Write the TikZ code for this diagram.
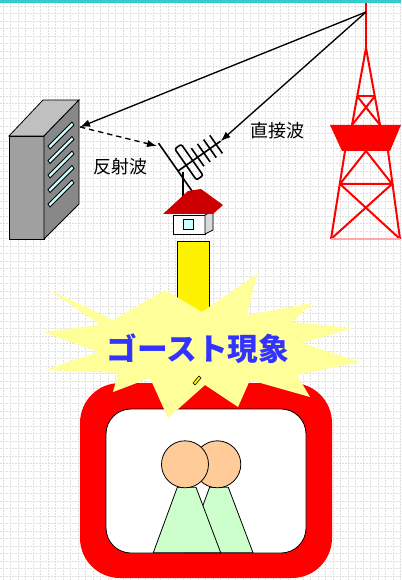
\documentclass[tikz,border=0pt]{standalone}
\usepackage{fontspec}
\newfontfamily\jpfont{Noto Sans CJK JP}
\usepackage{xcolor}
\usetikzlibrary{arrows.meta}
\definecolor{topbar}{RGB}{51,204,204}
\definecolor{gridgray}{RGB}{222,222,222}
\definecolor{bldgfront}{RGB}{160,160,160}
\definecolor{bldgtop}{RGB}{192,192,192}
\definecolor{bldgside}{RGB}{136,136,136}
\definecolor{glass}{RGB}{204,255,255}
\definecolor{roofred}{RGB}{204,0,0}
\definecolor{starfill}{RGB}{255,255,153}
\definecolor{ghostblue}{RGB}{51,51,255}
\definecolor{face}{RGB}{255,204,153}
\definecolor{cloth}{RGB}{204,255,204}
\tikzset{
    gridline/.style={draw=gridgray, line width=0.6pt, dash pattern=on 1.5pt off 0.75pt},
    wave/.style={-{Latex[length=7.5pt,width=5.5pt]}, line width=1pt, draw=black},
    reflwave/.style={wave, dash pattern=on 4pt off 3pt},
    tower/.style={draw=red, line width=1.5pt},
    thinline/.style={draw=black, line width=0.6pt},
    antline/.style={draw=black, line width=1.2pt},
    wavetext/.style={font=\jpfont\fontsize{13.5}{15}\selectfont, inner sep=0pt}
}

\begin{document}
\begin{tikzpicture}[x=0.75pt, y=-0.75pt]
    \useasboundingbox (0,0) rectangle (401,580);
    % background grid
    \foreach \i in {3,10.5,...,401} \draw[gridline] (\i,3) -- (\i,580);
    \foreach \j in {6,13.5,...,580} \draw[gridline] (0,\j) -- (401,\j);
    \fill[topbar] (0,0) rectangle (401,3);

    % building
    \fill[bldgfront, thinline] (9,136) rectangle (44,239);
    \filldraw[fill=bldgtop, thinline] (9,136) -- (44,136) -- (79,100) -- (43,100) -- cycle;
    \filldraw[fill=bldgside, thinline] (44,136) -- (79,100) -- (79,204) -- (44,239) -- cycle;
    \foreach \d in {0,14.5,...,58}
        \filldraw[fill=glass, thinline] (48,146+\d) -- (72,122+\d) -- (74,125+\d) -- (50,149+\d) -- cycle;

    % tower
    \draw[tower] (366,3) -- (366,48);
    \draw[tower] (352,125) -- (366,48) -- (380,125);
    \draw[tower] (357,96) -- (375,96);
    \draw[tower] (357,96) -- (380,125) (375,96) -- (352,125);
    \fill[red] (330,125) -- (401,125) -- (390,151) -- (342,151) -- cycle;
    \draw[tower] (345,151) -- (331,239) (388,151) -- (400,239);
    \draw[tower] (340,184) -- (366,151) -- (392,184) -- (340,184);
    \draw[tower] (340,184) -- (400,239) (392,184) -- (331,239);
    \draw[red!35, line width=1pt] (331,239) -- (400,239);

    % antenna on the roof
    \draw[antline] (183,172) -- (183,200);
    \begin{scope}[shift={(178,171)}, rotate=35]
        \draw[antline] (0,-34) -- (0,30);
        \draw[antline] (0,0) -- (52,0);
        \draw[antline, rounded corners=1.5pt] (10,-20) rectangle (18,18);
        \foreach \k in {24,31.5,39,46.5} \draw[antline] (\k,-11) -- (\k,11);
        \coordinate (ant) at (52,0);
    \end{scope}

    % house
    \filldraw[fill=white, thinline] (173,215) rectangle (205,234);
    \filldraw[fill=black!15, thinline] (205,215) -- (213,211) -- (213,230) -- (205,234) -- cycle;
    \filldraw[fill=glass, thinline] (183,219) rectangle (193,229);
    \fill[roofred] (163,214) -- (188,191) -- (201,189) -- (223,205) -- (213,214) -- cycle;
    \draw[red!80!black, line width=0.5pt] (189,192) -- (213,214);

    % waves
    \coordinate (src) at (366,12);
    \coordinate (bldg) at (80,127);
    \coordinate (refl) at (157,146);
    \draw[wave] (src) -- (bldg);
    \draw[wave] (src) -- (ant);
    \draw[reflwave] (bldg) -- (refl);
    \node[wavetext] (direct) at (277,131) {直接波};
    \node[wavetext] (reflected) at (120,167) {反射波};

    % cable down to the set
    \filldraw[fill=yellow, thinline] (177,241) rectangle (209,330);

    % television
    \fill[red, rounded corners=40pt*0.75] (80,383) rectangle (332,578);
    \filldraw[fill=white, thinline, rounded corners=25pt*0.75] (106,409) rectangle (306,553);
    \filldraw[fill=cloth, thinline] (209.6,487.3) -- (228.3,487.3) -- (253,552.7) -- (185.6,552.7) -- cycle;
    \filldraw[fill=face, thinline] (217.3,464.3) circle (23.5);
    \filldraw[fill=cloth, thinline] (177.3,487.3) -- (196,487.3) -- (220.7,552.7) -- (153.3,552.7) -- cycle;
    \filldraw[fill=face, thinline] (185,464.3) circle (23.5);

    % burst
    \fill[starfill] (48,289) -- (113,320) -- (165,290) -- (202,312) -- (257,274) -- (247,315)
        -- (313,303) -- (292,322) -- (353,328) -- (302,343) -- (360,362) -- (297,375)
        -- (310,397) -- (250,380) -- (238,407) -- (205,385) -- (168,418) -- (150,378)
        -- (113,392) -- (118,373) -- (45,370) -- (98,352) -- (43,332) -- (100,325) -- cycle;
    \filldraw[fill=yellow, line width=0.4pt] (193,383) -- (199,376) -- (201,378) -- (195,385) -- cycle;
    \node[font=\jpfont\bfseries\fontsize{23}{26}\selectfont, text=ghostblue, inner sep=0pt] (ghost) at (198,349) {ゴースト現象};
\end{tikzpicture}
\end{document}
